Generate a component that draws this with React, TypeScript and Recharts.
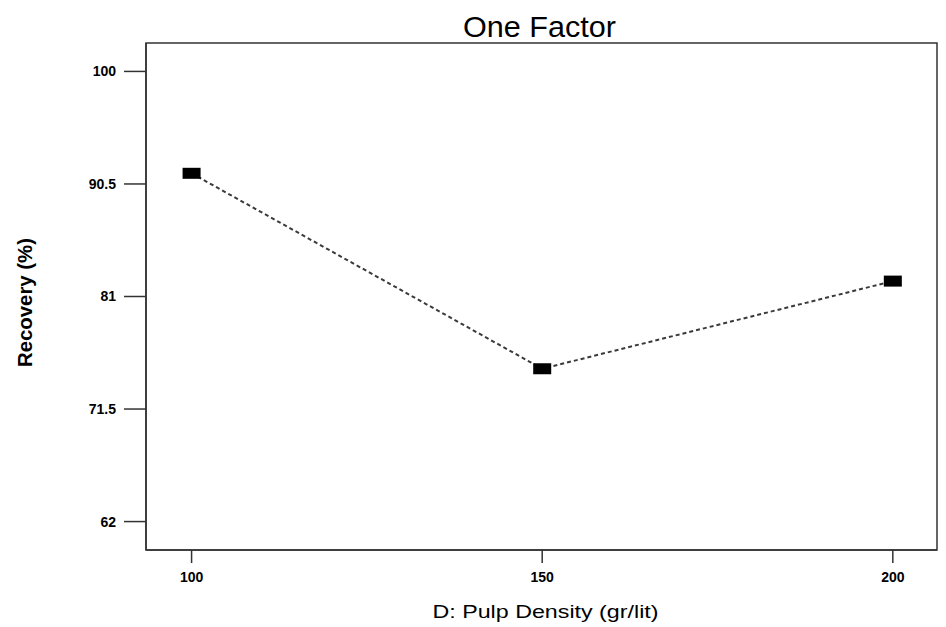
import React from "react";
import {
	LineChart,
	Line,
	XAxis,
	YAxis,
	ReferenceArea,
	Label
} from "recharts";

const pulpDensity = [100, 150, 200];
const recovery = [91.4, 74.9, 82.3];
const xTicks = [100, 150, 200];
const yTicks = [62, 71.5, 81, 90.5, 100];

const data = pulpDensity.map((d, i) => ({ density: d, recovery: recovery[i] }));

const FONT = "'Liberation Sans', Arial, sans-serif";
const AXIS = "#333";

const SquareDot = (props: any) => {
	const { cx, cy } = props;
	if (cx == null || cy == null) return null;
	return <rect x={cx - 9} y={cy - 5.5} width={18} height={11} fill="#000" />;
};

const TitleLabel = (props: any) => {
	const vb = props.viewBox;
	return (
		<text
			x={vb.x + vb.width / 2 - 2}
			y={vb.y - 6}
			textAnchor="middle"
			fontFamily={FONT}
			fontSize={29}
			textLength={153}
			lengthAdjust="spacingAndGlyphs"
			fill="#000"
		>
			One Factor
		</text>
	);
};

const XLabel = (props: any) => {
	const vb = props.viewBox;
	return (
		<text
			x={vb.x + vb.width / 2 + 4}
			y={618}
			textAnchor="middle"
			fontFamily={FONT}
			fontSize={19}
			textLength={226}
			lengthAdjust="spacingAndGlyphs"
			fill="#000"
		>
			D: Pulp Density (gr/lit)
		</text>
	);
};

const YLabel = (props: any) => {
	const vb = props.viewBox;
	const cy = vb.y + vb.height / 2 + 6;
	return (
		<text
			x={32}
			y={cy}
			transform={`rotate(-90, 32, ${cy})`}
			textAnchor="middle"
			fontFamily={FONT}
			fontSize={20}
			fontWeight="bold"
			textLength={129}
			lengthAdjust="spacingAndGlyphs"
			fill="#000"
		>
			Recovery (%)
		</text>
	);
};

const App = () => {
	return (
		<div style={{ position: "absolute", left: 0, top: 0, background: "#fff" }}>
			<LineChart
				width={946}
				height={627}
				data={data}
				margin={{ top: 43, right: 9, bottom: 0, left: 0 }}
			>
				<XAxis
					dataKey="density"
					type="number"
					domain={[93.5, 206.3]}
					ticks={xTicks}
					height={77}
					tickSize={13}
					tickMargin={9}
					stroke={AXIS}
					strokeWidth={1.5}
					tick={{ fill: "#000", fontSize: 14, fontWeight: "bold", fontFamily: FONT }}
					label={<Label content={XLabel} />}
				/>
				<YAxis
					type="number"
					domain={[59.6, 102.4]}
					ticks={yTicks}
					width={146}
					tickSize={22}
					tickMargin={8}
					stroke={AXIS}
					strokeWidth={1.5}
					tick={{ fill: "#000", fontSize: 14, fontWeight: "bold", fontFamily: FONT }}
					label={<Label content={YLabel} />}
				/>
				<ReferenceArea
					x1={93.5}
					x2={206.3}
					y1={59.6}
					y2={102.4}
					fill="none"
					fillOpacity={0}
					stroke={AXIS}
					strokeWidth={1.5}
					label={<Label content={TitleLabel} />}
				/>
				<Line
					type="linear"
					dataKey="recovery"
					stroke="#3a3a3a"
					strokeWidth={2}
					strokeDasharray="4 3"
					dot={<SquareDot />}
					activeDot={false}
					isAnimationActive={false}
				/>
			</LineChart>
		</div>
	);
};

export default App;
